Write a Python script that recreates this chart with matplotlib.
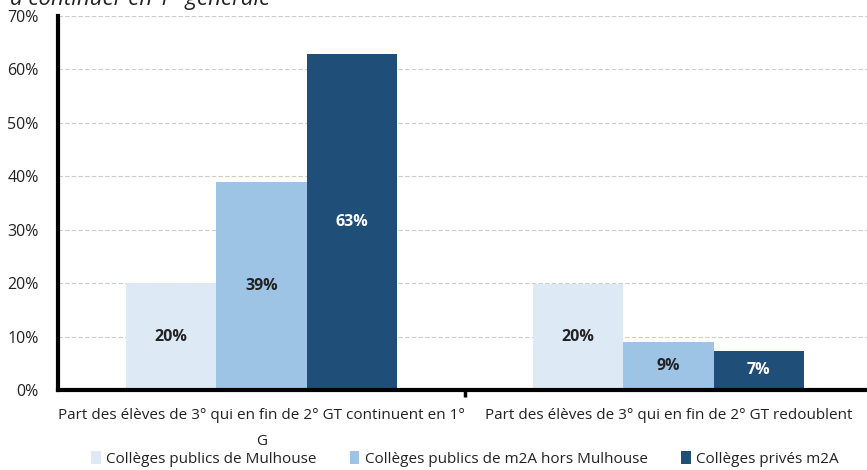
import matplotlib
matplotlib.use("Agg")
import matplotlib.pyplot as plt
from matplotlib.patches import Patch
import numpy as np

categories = ["Part des élèves de 3° qui en fin de 2° GT continuent en 1°\nG",
              "Part des élèves de 3° qui en fin de 2° GT redoublent"]
series_names = ["Collèges publics de Mulhouse",
                "Collèges publics de m2A hors Mulhouse",
                "Collèges privés m2A"]
values = [[20.0, 19.9],
          [39.0, 8.9],
          [62.9, 7.3]]
labels = [["20%", "20%"], ["39%", "9%"], ["63%", "7%"]]
yticks = [0, 10, 20, 30, 40, 50, 60, 70]
colors = ["#dde9f5", "#9dc3e5", "#1f4e78"]
label_colors = ["#222222", "#222222", "white"]

fam = ["Open Sans", "DejaVu Sans"]
plt.rcParams['font.family'] = fam

fig = plt.figure(figsize=(8.67, 4.70), dpi=100)
renderer = fig.canvas.get_renderer()


def fit(s, target_px, base=12, **kw):
    t = fig.text(0, 0, s, fontsize=base, **kw)
    w = t.get_window_extent(renderer).width
    t.remove()
    return base * target_px / w


ax = fig.add_axes([58/867, 80/470, 814/867, 374/470])

x = np.arange(len(categories))
w = 0.222
for i, (vals, col) in enumerate(zip(values, colors)):
    pos = x + (i - 1) * w
    ax.bar(pos, vals, width=w, color=col, zorder=2)
    for p, v, lab in zip(pos, vals, labels[i]):
        ax.text(p, v / 2, lab, ha='center', va='center', fontsize=11.5,
                fontweight='bold', color=label_colors[i], zorder=3)

ax.set_xlim(-0.5, 1.5)
ax.set_ylim(0, 70)
ax.set_yticks(yticks)
ax.set_yticklabels([f"{t}%" for t in yticks], fontsize=11.5, color="#222222")
ax.tick_params(axis='y', length=0, pad=14)

xl_size = fit(categories[0].split("\n")[0], 405)
ax.set_xticks(x)
ax.set_xticklabels(categories, fontsize=xl_size, color="#222222", linespacing=2.0)
ax.tick_params(axis='x', length=0, pad=13)
ax.set_xticks([0.5], minor=True)
ax.tick_params(axis='x', which='minor', length=5, width=2.5, color='black')
ax.grid(axis='y', color='#cccccc', linestyle=(0, (4, 2)), linewidth=0.8, zorder=0)
for s in ['top', 'right']:
    ax.spines[s].set_visible(False)
ax.spines['left'].set_linewidth(3)
ax.spines['bottom'].set_linewidth(3)
ax.spines['bottom'].set_zorder(5)

title = "à continuer en 1° générale"
t_size = fit(title, 260, style='italic')
fig.text(10/867, 1 - 5/470, title, fontsize=t_size,
         style='italic', ha='left', va='baseline', color='#222222')

lg_size = fit(series_names[0], 210)
handles = [Patch(facecolor=c, edgecolor='none') for c in colors]
fig.legend(handles, series_names, loc='center', ncol=3,
           bbox_to_anchor=(465/867, 11/470), frameon=False,
           prop={'size': lg_size}, handlelength=0.6, handleheight=0.95,
           handletextpad=0.35, columnspacing=2.2, labelcolor='#222222',
           borderpad=0, borderaxespad=0)

fig.savefig("out.png", dpi=100)
